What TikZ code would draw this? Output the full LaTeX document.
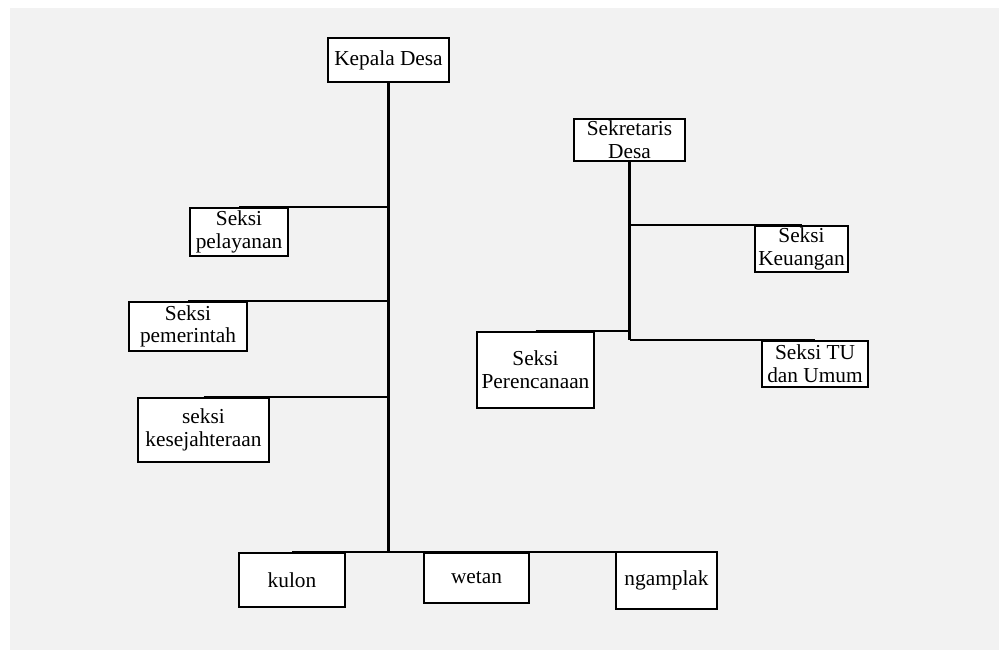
\documentclass[tikz,border=0pt]{standalone}
\usepackage{fontspec}
\setmainfont{Liberation Serif}
\usetikzlibrary{positioning}
\definecolor{bggray}{HTML}{F2F2F2}
\newcommand{\px}{0.75pt}

\begin{document}
\begin{tikzpicture}[x=0.75pt, y=-0.75pt,
  box/.style={draw, fill=white, line width=1.5pt, inner sep=0pt, align=center,
    font=\fontsize{16}{17}\selectfont},
  link/.style={line width=1.4pt},
  trunk/.style={line width=2pt}]
\useasboundingbox (0,0) rectangle (1005,650);
\fill[bggray] (10,8) rectangle (999,650);

% kepala desa and sections
\node[box, minimum width=121*\px, minimum height=44*\px] (kd) at (388.5,60) {Kepala Desa};
\node[box, minimum width=98*\px, minimum height=48*\px] (pel) at (239,232) {Seksi\\pelayanan};
\node[box, minimum width=118*\px, minimum height=49*\px] (pem) at (188,326.5) {Seksi\\pemerintah};
\node[box, minimum width=131*\px, minimum height=64*\px] (kes) at (203.5,430) {seksi\\kesejahteraan};

% dusun
\node[box, minimum width=106*\px, minimum height=54*\px] (kul) at (292,580) {kulon};
\node[box, minimum width=105*\px, minimum height=50*\px] (wet) at (476.5,578) {wetan};
\node[box, minimum width=101*\px, minimum height=57*\px] (ngm) at (666.5,580.5) {ngamplak};

% sekretaris desa
\node[box, minimum width=111*\px, minimum height=42*\px] (sd) at (629.5,140) {Sekretaris\\Desa};
\node[box, minimum width=93*\px, minimum height=46*\px] (keu) at (801.5,249) {Seksi\\Keuangan};
\node[box, minimum width=117*\px, minimum height=76*\px] (per) at (535.5,370) {Seksi\\Perencanaan};
\node[box, minimum width=106*\px, minimum height=46*\px] (tu) at (815,364) {Seksi TU\\dan Umum};

% lines
\draw[trunk] (kd.south) -- (kd.south |- kul.north);
\draw[link] (kul.north) -- (kul.north -| ngm.north);
\foreach \b in {pel,pem,kes}
    \draw[link] (\b.north) -- (\b.north -| kd.south);

\draw[trunk] (sd.south) -- (sd.south |- tu.north);
\foreach \b in {keu,per,tu}
    \draw[link] (\b.north) -- (\b.north -| sd.south);
\end{tikzpicture}
\end{document}
